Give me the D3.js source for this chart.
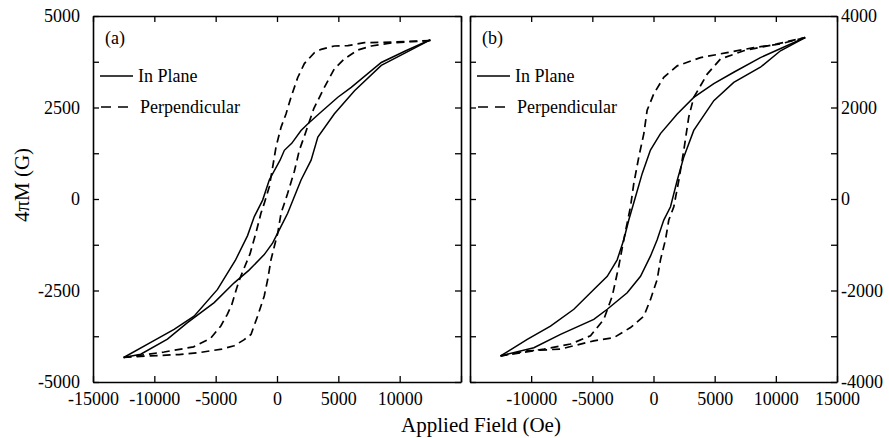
<!DOCTYPE html>
<html>
<head>
<meta charset="utf-8">
<script src="https://cdn.jsdelivr.net/npm/d3@7"></script>
<style>
  body { margin: 0; background: #fff; }
  text { font-family: "Liberation Serif", "Times New Roman", serif; fill: #000; }
</style>
</head>
<body>
<svg width="889" height="438"></svg>
<script>
// tick values
const xTickVals = [-15000, -10000, -5000, 0, 5000, 10000, 15000];
const aXLabels = [-15000, -10000, -5000, 0, 5000, 10000];
const bXLabels = [-10000, -5000, 0, 5000, 10000, 15000];
const aYTickVals = [-5000, -3750, -2500, -1250, 0, 1250, 2500, 3750, 5000];
const aYLabels = [-5000, -2500, 0, 2500, 5000];
const bYTickVals = [-4000, -3000, -2000, -1000, 0, 1000, 2000, 3000, 4000];
const bYLabels = [-4000, -2000, 0, 2000, 4000];

// panel (a) loops, [H (Oe), 4piM (G)]
const aInPlaneDown = [[12500,4350],[10500,4050],[8500,3730],[6050,3050],[4960,2780],[3500,2350],[2500,2050],[1960,1870],[1200,1520],[600,1330],[250,1060],[-630,520],[-1170,-30],[-1850,-480],[-2400,-1000],[-3400,-1680],[-4850,-2470],[-6760,-3200],[-8390,-3560],[-10290,-3920],[-12500,-4330]];
const aInPlaneUp = [[-12500,-4330],[-11110,-4240],[-8930,-3830],[-7300,-3380],[-5120,-2830],[-3490,-2290],[-2300,-1950],[-1040,-1520],[-350,-1200],[330,-750],[870,-390],[1410,60],[1960,520],[2780,1060],[3330,1690],[4680,2330],[6320,2960],[8500,3650],[10500,4000],[12500,4350]];
const aPerpDown = [[12500,4330],[9500,4290],[7130,4270],[5780,4190],[4680,4180],[3600,4090],[3050,4000],[2230,3700],[1690,3320],[1140,2780],[740,2330],[330,1960],[-80,1420],[-350,880],[-630,330],[-1040,-120],[-1310,-390],[-1720,-930],[-2200,-1500],[-2400,-1660],[-3000,-2150],[-3300,-2450],[-3700,-2900],[-4050,-3150],[-4580,-3470],[-5400,-3800],[-6800,-4040],[-9200,-4180],[-12500,-4330]];
const aPerpUp = [[-12500,-4330],[-10560,-4290],[-8000,-4250],[-6210,-4190],[-4500,-4100],[-3490,-4010],[-2700,-3850],[-2120,-3700],[-1580,-3200],[-1040,-2650],[-760,-2200],[-490,-1660],[-220,-1300],[60,-930],[330,-390],[870,155],[1410,750],[1820,1330],[2300,1785],[3000,2470],[3860,3050],[4680,3560],[5500,3830],[6590,4070],[7680,4180],[9500,4270],[12500,4330]];

// panel (b) loops
const bInPlaneDown = [[12400,3530],[8740,3090],[6560,2770],[4930,2520],[3290,2220],[1940,1860],[570,1430],[-250,1070],[-920,560],[-1470,50],[-2020,-460],[-2430,-890],[-2970,-1330],[-3780,-1690],[-4880,-1980],[-6510,-2410],[-8420,-2780],[-10320,-3070],[-12500,-3430]];
const bInPlaneUp = [[-12500,-3430],[-9780,-3250],[-7600,-2960],[-4880,-2630],[-3780,-2410],[-2150,-2050],[-1060,-1690],[-250,-1250],[300,-890],[840,-460],[1390,-170],[1940,410],[2480,920],[3290,1500],[4930,2150],[6560,2550],[8740,2880],[10380,3240],[12400,3530]];
const bPerpDown = [[12400,3530],[10380,3390],[8200,3310],[6020,3200],[3840,3090],[1940,2910],[840,2660],[25,2300],[-520,1940],[-790,1430],[-1200,920],[-1610,340],[-1880,-170],[-2430,-890],[-2840,-1470],[-3370,-2120],[-4060,-2630],[-5150,-2990],[-6780,-3170],[-8960,-3280],[-12500,-3430]];
const bPerpUp = [[-12500,-3430],[-10320,-3320],[-7600,-3280],[-4880,-3100],[-3240,-3030],[-1880,-2810],[-790,-2560],[-250,-2200],[300,-1760],[570,-1330],[980,-890],[1250,-460],[1660,-170],[2070,410],[2480,1070],[2880,1790],[3290,2220],[4390,2730],[5470,3060],[7380,3240],[10110,3390],[12400,3530]];

const svg = d3.select("svg");
const plotTop = 16, plotBottom = 382;
const tick = 6;

const panels = [
  { left: 93, right: 461, yDomain: [-5000, 5000], yTicks: aYTickVals, yLabels: aYLabels,
    xLabels: aXLabels, labelSide: "left", tag: "(a)",
    inPlane: [aInPlaneDown, aInPlaneUp], perp: [aPerpDown, aPerpUp] },
  { left: 470, right: 837, yDomain: [-4000, 4000], yTicks: bYTickVals, yLabels: bYLabels,
    xLabels: bXLabels, labelSide: "right", tag: "(b)",
    inPlane: [bInPlaneDown, bInPlaneUp], perp: [bPerpDown, bPerpUp] }
];

panels.forEach(function(p) {
  const x = d3.scaleLinear().domain([-15000, 15000]).range([p.left, p.right]);
  const y = d3.scaleLinear().domain(p.yDomain).range([plotBottom, plotTop]);
  const g = svg.append("g");

  const xFmt = d => p.xLabels.includes(d) ? String(d) : "";
  const yFmt = d => p.yLabels.includes(d) ? String(d) : "";
  const none = () => "";

  // bottom axis with labels
  g.append("g")
    .attr("transform", "translate(0," + plotBottom + ")")
    .call(d3.axisBottom(x).tickValues(xTickVals).tickSize(-tick).tickSizeOuter(0).tickPadding(10).tickFormat(xFmt));
  // top axis, ticks only
  g.append("g")
    .attr("transform", "translate(0," + plotTop + ")")
    .call(d3.axisTop(x).tickValues(xTickVals).tickSize(-tick).tickSizeOuter(0).tickFormat(none));
  // left axis
  g.append("g")
    .attr("transform", "translate(" + p.left + ",0)")
    .call(d3.axisLeft(y).tickValues(p.yTicks).tickSize(-tick).tickSizeOuter(0).tickPadding(13)
      .tickFormat(p.labelSide === "left" ? yFmt : none));
  // right axis
  g.append("g")
    .attr("transform", "translate(" + p.right + ",0)")
    .call(d3.axisRight(y).tickValues(p.yTicks).tickSize(-tick).tickSizeOuter(0).tickPadding(4)
      .tickFormat(p.labelSide === "right" ? yFmt : none));

  g.selectAll(".domain").attr("stroke-width", 1.6);
  g.selectAll(".tick line").attr("stroke-width", 1.3);
  g.selectAll(".tick text")
    .style("font-family", '"Liberation Serif", "Times New Roman", serif')
    .style("font-size", "18px");

  const line = d3.line().x(d => x(d[0])).y(d => y(d[1]));

  g.selectAll(".inplane")
    .data(p.inPlane)
    .join("path")
      .attr("class", "inplane")
      .attr("fill", "none")
      .attr("stroke", "#000")
      .attr("stroke-width", 1.5)
      .attr("d", line);

  g.selectAll(".perp")
    .data(p.perp)
    .join("path")
      .attr("class", "perp")
      .attr("fill", "none")
      .attr("stroke", "#000")
      .attr("stroke-width", 1.7)
      .attr("stroke-dasharray", "8,5")
      .attr("d", line);

  // panel tag and legend
  g.append("text")
    .attr("x", p.left + 12)
    .attr("y", 44)
    .style("font-size", "18px")
    .text(p.tag);

  const lx = p.left + 7;
  g.append("line")
    .attr("x1", lx).attr("x2", lx + 33)
    .attr("y1", 76).attr("y2", 76)
    .attr("stroke", "#000").attr("stroke-width", 1.6);
  g.append("text")
    .attr("x", lx + 38).attr("y", 82)
    .style("font-size", "18px")
    .text("In Plane");
  g.append("line")
    .attr("x1", lx + 1).attr("x2", lx + 33)
    .attr("y1", 107).attr("y2", 107)
    .attr("stroke", "#000").attr("stroke-width", 1.6)
    .attr("stroke-dasharray", "10,7");
  g.append("text")
    .attr("x", lx + 40).attr("y", 113)
    .style("font-size", "18px")
    .text("Perpendicular");
});

// axis titles
svg.append("text")
  .attr("x", 481)
  .attr("y", 432)
  .attr("text-anchor", "middle")
  .style("font-size", "21px")
  .text("Applied Field (Oe)");

svg.append("text")
  .attr("transform", "translate(29,185) rotate(-90)")
  .attr("text-anchor", "middle")
  .style("font-size", "21px")
  .text("4πM (G)");
</script>
</body>
</html>
